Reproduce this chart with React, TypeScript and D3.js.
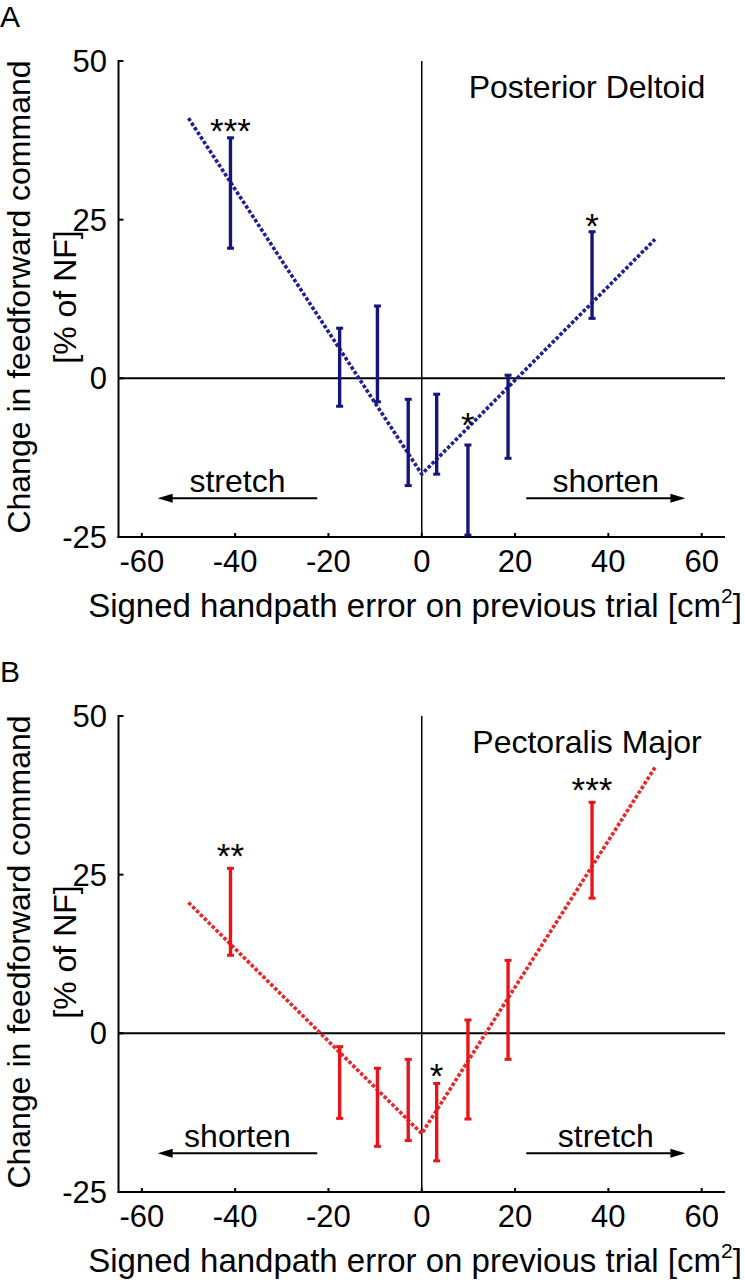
import React from "react";
import * as d3 from "d3";

const xTicks = [-60, -40, -20, 0, 20, 40, 60];
const yTicks = [-25, 0, 25, 50];
const binX = [-41, -17.6, -9.5, -2.9, 3.2, 9.9, 18.5, 36.5];

const deltoidHigh = [37.9, 7.9, 11.4, -3.3, -2.5, -10.5, 0.5, 23.1];
const deltoidLow = [20.5, -4.4, -3.7, -16.9, -15.1, -24.7, -12.6, 9.45];
const deltoidStars = ["***", "", "", "", "", "*", "", "*"];
const deltoidStarY = [40.2, 0, 0, 0, 0, -6.1, 0, 25.3];

const pectoralHigh = [26.0, -2.1, -5.5, -4.1, -7.9, 2.1, 11.5, 36.4];
const pectoralLow = [12.3, -13.4, -17.8, -16.9, -20.1, -13.5, -4.1, 21.3];
const pectoralStars = ["**", "", "", "", "*", "", "", "***"];
const pectoralStarY = [29.2, 0, 0, 0, -5.4, 0, 0, 39.7];

const fitX = [-50, 0, 50];
const deltoidFit = [41, -15.1, 21.9];
const pectoralFit = [20.6, -15.8, 41.9];

const arrowStart = [-22.4, 22.4];
const arrowEnd = [-56.6, 56.5];
const arrowY = -18.9;
const deltoidArrowText = ["stretch", "shorten"];
const pectoralArrowText = ["shorten", "stretch"];

const FONT = "'Liberation Sans', Arial, Helvetica, sans-serif";

type PanelProps = {
  top: number;
  letter: string;
  title: string;
  high: number[];
  low: number[];
  stars: string[];
  starY: number[];
  fit: number[];
  arrowText: string[];
  barColor: string;
  lineColor: string;
};

function Panel(p: PanelProps) {
  const x = d3.scaleLinear().domain([-65, 65]).range([118.5, 725]);
  const y = d3.scaleLinear().domain([-25, 50]).range([537 + p.top, 61 + p.top]);
  const line = d3
    .line<number>()
    .x((_, i) => x(fitX[i]))
    .y((d) => y(d));
  const capW = 3.5;
  return (
    <g fontFamily={FONT}>
      <text x={0} y={p.top + 27} fontSize={30}>
        {p.letter}
      </text>
      {/* axes */}
      <line x1={x(-65)} x2={x(-65)} y1={y(50) - 1} y2={y(-25) + 1} stroke="#000" strokeWidth={2} />
      <line x1={x(-65) - 1} x2={x(65)} y1={y(-25)} y2={y(-25)} stroke="#000" strokeWidth={2} />
      {/* zero lines */}
      <line x1={x(-65)} x2={x(65)} y1={y(0)} y2={y(0)} stroke="#000" strokeWidth={2} />
      <line x1={x(0)} x2={x(0)} y1={y(50)} y2={y(-25)} stroke="#000" strokeWidth={1.5} />
      {yTicks.map((t) => (
        <g key={"y" + t}>
          <line x1={x(-65)} x2={x(-65) + 5} y1={y(t)} y2={y(t)} stroke="#000" strokeWidth={2} />
          <text x={107} y={y(t)} dy="0.36em" textAnchor="end" fontSize={31}>
            {t}
          </text>
        </g>
      ))}
      {xTicks.map((t) => (
        <g key={"x" + t}>
          <line x1={x(t)} x2={x(t)} y1={y(-25)} y2={y(-25) - 4} stroke="#000" strokeWidth={2} />
          <text x={x(t)} y={p.top + 572} textAnchor="middle" fontSize={31}>
            {t}
          </text>
        </g>
      ))}
      {/* axis labels */}
      <text x={415} y={p.top + 617} textAnchor="middle" fontSize={33}>
        Signed handpath error on previous trial [cm
        <tspan fontSize={21} dy={-14}>2</tspan>
        <tspan dy={14}>]</tspan>
      </text>
      <g transform={`translate(30, ${p.top + 297}) rotate(-90)`}>
        <text textAnchor="middle" fontSize={32}>
          Change in feedforward command
        </text>
        <text y={46} textAnchor="middle" fontSize={32}>
          [% of NF]
        </text>
      </g>
      <text x={587} y={p.top + 98} textAnchor="middle" fontSize={32}>
        {p.title}
      </text>
      {/* arrows */}
      {arrowStart.map((s, i) => {
        const e = arrowEnd[i];
        const dir = e < s ? -1 : 1;
        const ay = y(arrowY);
        const tip = x(e);
        return (
          <g key={"a" + i}>
            <line x1={x(s)} x2={tip - dir * 10} y1={ay} y2={ay} stroke="#000" strokeWidth={2} />
            <path
              d={`M${tip},${ay} L${tip - dir * 15},${ay - 4.5} L${tip - dir * 15},${ay + 4.5} Z`}
              fill="#000"
            />
            <text x={(x(s) + x(e)) / 2} y={ay - 6} textAnchor="middle" fontSize={32}>
              {p.arrowText[i]}
            </text>
          </g>
        );
      })}
      {/* fit line */}
      <path d={line(p.fit) || ""} fill="none" stroke={p.lineColor} strokeWidth={3.6} strokeDasharray="3.5,2" />
      {/* error bars */}
      {binX.map((bx, i) => (
        <g key={"e" + i}>
          <line x1={x(bx)} x2={x(bx)} y1={y(p.high[i])} y2={y(p.low[i])} stroke={p.barColor} strokeWidth={3.4} />
          <line x1={x(bx) - capW} x2={x(bx) + capW} y1={y(p.high[i])} y2={y(p.high[i])} stroke={p.barColor} strokeWidth={3} />
          <line x1={x(bx) - capW} x2={x(bx) + capW} y1={y(p.low[i])} y2={y(p.low[i])} stroke={p.barColor} strokeWidth={3} />
          {p.stars[i] ? (
            <text x={x(bx)} y={y(p.starY[i])} dy="0.58em" textAnchor="middle" fontSize={35}>
              {p.stars[i]}
            </text>
          ) : null}
        </g>
      ))}
    </g>
  );
}

export default function App() {
  return (
    <svg
      width={745}
      height={1280}
      style={{ position: "absolute", left: 0, top: 0, background: "#fff" }}
    >
      <rect width={745} height={1280} fill="#fff" />
      <Panel
        top={0}
        letter="A"
        title="Posterior Deltoid"
        high={deltoidHigh}
        low={deltoidLow}
        stars={deltoidStars}
        starY={deltoidStarY}
        fit={deltoidFit}
        arrowText={deltoidArrowText}
        barColor="#16167a"
        lineColor="#1e1e96"
      />
      <Panel
        top={655}
        letter="B"
        title="Pectoralis Major"
        high={pectoralHigh}
        low={pectoralLow}
        stars={pectoralStars}
        starY={pectoralStarY}
        fit={pectoralFit}
        arrowText={pectoralArrowText}
        barColor="#e8141b"
        lineColor="#ee2424"
      />
    </svg>
  );
}
